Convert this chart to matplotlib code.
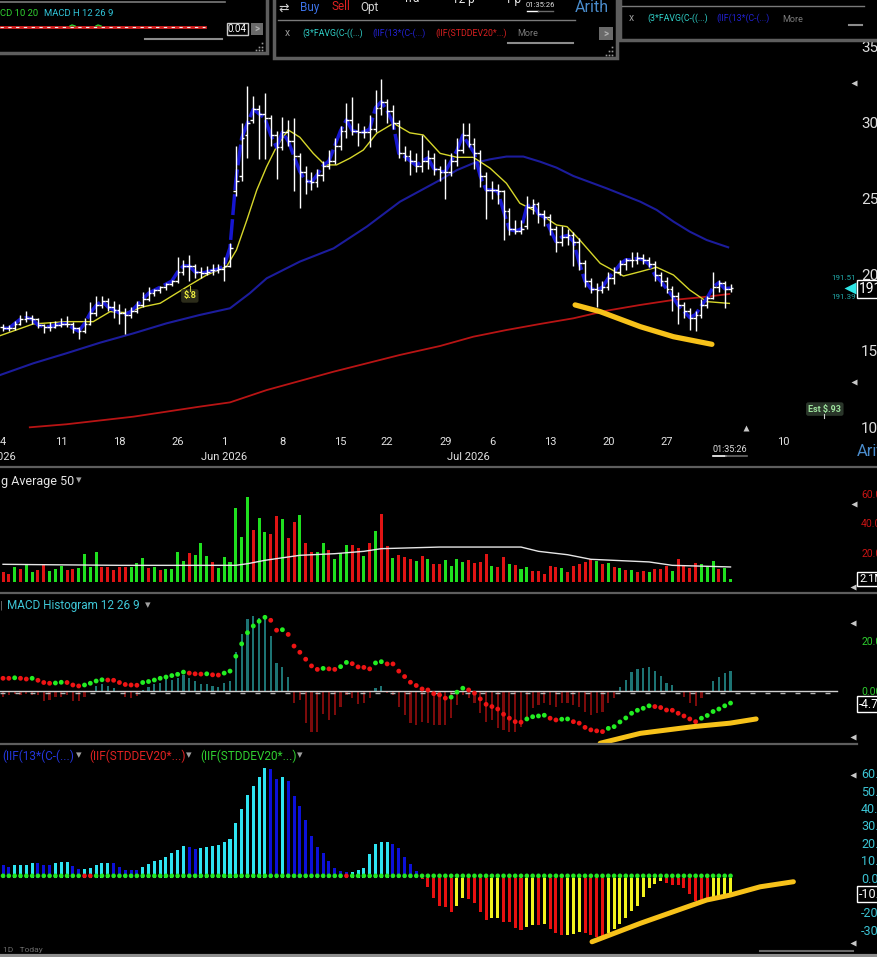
import matplotlib
matplotlib.use("Agg")
import matplotlib.pyplot as plt
import matplotlib.transforms as mtransforms
from matplotlib.patches import Rectangle
import numpy as np

plt.rcParams['font.family'] = ['Roboto', 'DejaVu Sans']

W, H = 877, 957

# ---------------- price bars (bar index 0 = 4 May 2026, two bars per session) ----------------
opens = [166, 165, 165, 168, 171, 172, 171, 167, 166, 166,
         167, 168, 168, 165, 163, 168, 175, 180, 183, 179,
         177, 175, 174, 176, 180, 184, 188, 190, 192, 194,
         196, 202, 206, 206, 202, 201, 203, 203, 204, 206,
         255, 265, 292, 302, 309, 306, 303, 292, 284, 294,
         288, 278, 268, 262, 261, 266, 272, 275, 285, 295,
         302, 295, 294, 294, 296, 310, 314, 308, 300, 280,
         278, 275, 272, 275, 277, 270,
         268, 268, 275, 282, 292, 286, 280, 265, 256, 256,
         255, 242, 230, 229, 232, 245, 247, 240, 238, 230,
         222, 225, 226, 222, 208, 196, 191, 190, 192, 198,
         202, 207, 210, 210, 211, 210, 207, 200, 196, 191,
         186, 180, 176, 172, 174, 180, 185, 192, 195, 191]
highs = [168, 167, 170, 174, 176, 174, 172, 168, 169, 170,
         172, 173, 169, 166, 172, 182, 186, 186, 185, 183,
         181, 178, 179, 183, 189, 192, 191, 193, 195, 197,
         212, 210, 213, 207, 205, 206, 207, 207, 212, 221,
         285, 300, 324, 318, 312, 320, 305, 295, 304, 302,
         303, 280, 272, 268, 270, 275, 282, 290, 298, 313,
         317, 300, 298, 305, 322, 329, 316, 312, 302, 285,
         282, 280, 292, 282, 280, 272,
         276, 280, 290, 300, 300, 290, 282, 268, 262, 260,
         256, 244, 236, 236, 252, 250, 248, 243, 240, 232,
         232, 230, 228, 224, 210, 198, 195, 196, 202, 205,
         210, 211, 215, 215, 214, 212, 209, 202, 199, 193,
         189, 182, 178, 176, 184, 186, 202, 197, 196, 194]
lows = [163, 163, 164, 167, 169, 168, 165, 162, 163, 165,
        166, 166, 162, 158, 162, 167, 173, 178, 176, 172,
        168, 161, 172, 175, 179, 183, 186, 188, 190, 193,
        195, 200, 196, 198, 198, 200, 200, 201, 196, 205,
        252, 262, 277, 300, 276, 276, 285, 263, 282, 285,
        255, 244, 253, 256, 258, 262, 270, 273, 282, 290,
        292, 285, 290, 284, 294, 305, 300, 296, 277, 275,
        266, 268, 268, 270, 266, 262,
        250, 265, 272, 280, 284, 270, 258, 237, 250, 247,
        223, 226, 227, 227, 230, 240, 234, 232, 226, 215,
        219, 220, 206, 203, 192, 188, 179, 188, 190, 194,
        200, 203, 205, 207, 207, 205, 196, 193, 188, 176,
        168, 172, 164, 163, 172, 178, 184, 189, 178, 189]
closes = [165, 165, 168, 171, 172, 171, 167, 166, 166, 167,
          168, 168, 165, 163, 168, 175, 180, 183, 179, 177,
          175, 174, 176, 180, 184, 188, 190, 192, 194, 196,
          202, 206, 206, 202, 201, 202, 203, 204, 206, 218,
          262, 290, 300, 309, 306, 303, 292, 284, 294, 288,
          278, 268, 262, 261, 266, 272, 275, 285, 295, 302,
          295, 294, 294, 296, 310, 314, 308, 300, 280, 278,
          275, 272, 275, 277, 270, 268,
          268, 275, 282, 292, 286, 280, 265, 256, 256, 255,
          242, 230, 229, 230, 245, 247, 240, 238, 230, 222,
          225, 226, 222, 208, 196, 191, 190, 192, 198, 202,
          207, 210, 210, 211, 210, 207, 200, 196, 191, 186,
          180, 176, 172, 174, 180, 185, 192, 195, 191, 191.4]

# moving averages read at sample positions (bar index, price)
ma_fast_idx = [-0.5, 5.2, 10.9, 15.5, 18.4, 21.2, 24.1, 27, 29.8, 32.1,
               35, 38.4, 40.1, 41.9, 43.6, 45.3, 47, 49, 51, 53.3,
               55.3, 57.3, 59.6, 61.9, 64.2, 67.1, 69.9, 72.2, 75.1, 78,
               80.8, 83.7, 86.5, 88.8, 91.7, 95.1, 96.9, 99.1, 102.6, 106.6,
               109.5, 112.3, 115.2, 118, 120.9, 124.8]
ma_fast_val = [160.1, 167.8, 169.3, 169.3, 175.9, 175.2, 179.1, 181.4, 188.0, 193.4,
               200.0, 205.5, 216.4, 236.2, 255.9, 271.3, 284.4, 295.4, 290.6, 280.0,
               272.4, 272.4, 276.8, 282.2, 293.2, 299.8, 293.5, 292.1, 280.0, 277.4,
               277.4, 270.2, 260.3, 247.2, 241.6, 232.9, 231.8, 223.0, 207.7, 199.3,
               202.2, 205.1, 200.0, 190.1, 182.5, 181.3]
ma50_idx = [-0.5, 5.2, 10.9, 16.7, 22.4, 28.1, 33.8, 39, 42.4, 45.3,
            51, 56.8, 62.5, 68.2, 75.1, 78, 80.8, 83.7, 86.5, 89.4,
            92.3, 95.1, 98, 103.7, 109.5, 112.3, 115.2, 118, 120.9, 124.6]
ma50_val = [134.2, 141.9, 148.5, 155.5, 161.6, 168.2, 173.7, 178.1, 188.0, 197.8,
            208.8, 217.5, 231.8, 248.2, 262.5, 269.0, 273.5, 276.1, 277.9, 277.9,
            274.5, 270.6, 265.1, 257.0, 248.2, 242.8, 235.1, 228.5, 223.0, 218.2]
ma200_idx = [4.6, 10.9, 22.4, 33.8, 39, 45.3, 56.8, 68.2, 75.1, 80.8,
             86.5, 92.3, 98, 103.7, 109.5, 115.2, 120.9, 124.8]
ma200_val = [99.8, 101.8, 106.8, 113.4, 116.2, 124.3, 136.4, 147.4, 153.3, 159.4,
             163.8, 167.8, 171.5, 176.5, 180.3, 183.6, 185.7, 187.5]

# ---------------- volume (millions) ----------------
volume = [6.8, 5.2, 9.9, 8.6, 11.8, 6.8, 7.9, 12.0, 7.2, 8.6,
          10.8, 7.9, 8.6, 9.5, 18.8, 10.2, 20.1, 10.2, 10.2, 7.9,
          10.2, 10.2, 10.2, 12.7, 16.0, 9.5, 10.2, 7.9, 8.6, 8.6,
          20.1, 14.0, 19.4, 18.1, 26.2, 17.4, 13.3, 9.5, 16.7, 13.3,
          49.9, 30.3, 57.4, 35.0, 43.2, 33.7, 32.3, 44.5, 42.5, 29.6,
          40.5, 45.2, 26.2, 20.1, 20.1, 26.2, 21.5, 15.4, 19.4, 24.9,
          24.9, 22.8, 17.4, 26.2, 34.4, 45.9, 24.2, 16.0, 18.1, 16.7,
          15.4, 14.0, 17.4, 15.4, 12.0, 12.0,
          14.7, 10.6, 15.4, 13.3, 14.7, 12.7, 13.3, 18.8, 10.6, 9.9,
          16.7, 12.0, 11.3, 8.6, 9.9, 7.2, 7.2, 5.2, 10.6, 9.9,
          9.3, 6.6, 10.6, 12.0, 13.3, 15.4, 14.0, 12.0, 12.7, 9.9,
          9.3, 7.9, 7.9, 6.6, 7.2, 6.6, 8.6, 8.6, 10.6, 7.2,
          15.4, 10.6, 9.3, 12.7, 12.0, 10.6, 14.0, 8.6, 9.3, 2.3]
volume_dir = ("RRGRGGRRGG" "GRRGGGGRRR" "RRGGGRGRGG" "GGRGGGRGGG"
              "GGGRGGRRGR" "RGRRGGRGGG" "RRGRGRRGRR" "RGRGRRGGGG"
              "RRRRGRRGRG" "GRRRRRGRRR" "RRGRGRGRGR" "RGRRRGRRRR" "GGGRGG")
vol_ma_idx = [0, 5, 20, 35, 40, 42, 45, 51, 57, 62, 65, 75, 89, 92, 97, 101, 111, 115, 125]
vol_ma_val = [12.0, 11.8, 11.3, 11.3, 11.3, 12.4, 14.7, 18.1, 19.2, 20.8,
              22.6, 23.7, 23.7, 20.8, 18.5, 15.4, 13.6, 11.3, 10.2]

# ---------------- MACD 12 26 9 ----------------
macd_hist = [-2.3, -1.6, -1.1, -1.6, -1.2, -1.6, -1.6, -4.0, -3.6, -2.3,
             -2.3, -1.6, -4.0, -4.0, -2.3, -0.4, 2.1, 2.8, 2.0, 1.1,
             -0.5, -2.3, -2.9, -2.0, 0.3, 1.6, 2.8, 3.4, 4.7, 4.4,
             5.4, 6.5, 5.1, 4.0, 2.8, 2.8, 2.0, 1.6, 3.4, 4.2,
             15.8, 23.0, 28.9, 30.2, 29.3, 29.0, 22.2, 11.2, 9.6, 5.8,
             -5.0, -3.6, -12.8, -16.4, -16.4, -9.4, -11.7, -9.7, -6.3, -1.6,
             -2.9, -5.4, -5.0, -2.9, 1.1, 2.0, -0.9, -1.6, -6.3, -9.7,
             -13.0, -13.7, -12.4, -13.0, -13.7, -13.7,
             -13.7, -11.0, -5.6, -1.6, -2.9, -5.0, -9.0, -12.4, -11.7, -15.1,
             -15.7, -16.4, -16.4, -14.4, -10.4, -7.0, -5.6, -5.0, -5.6, -6.3,
             -5.0, -5.0, -5.6, -6.3, -8.3, -9.7, -9.0, -8.3, -5.0, -2.9,
             1.5, 4.4, 7.5, 8.9, 9.4, 9.7, 8.1, 6.0, 3.1, 2.4,
             -0.5, -2.3, -4.7, -5.9, -2.7, -0.3, 4.0, 5.6, 7.1, 8.1]
macd_line = [5.1, 5.1, 5.3, 5.1, 4.8, 5.1, 4.3, 3.4, 3.1, 3.2,
             3.5, 3.4, 2.4, 2.0, 2.4, 3.1, 4.0, 4.5, 4.4, 4.3,
             3.4, 2.6, 2.4, 2.3, 3.4, 3.8, 4.4, 5.1, 5.6, 6.2,
             6.7, 7.6, 7.2, 6.9, 6.8, 6.9, 6.5, 6.4, 7.2, 8.0,
             14.0, 19.0, 23.5, 26.2, 28.1, 29.7, 28.5, 24.5, 24.7, 22.8,
             18.1, 15.6, 12.8, 10.1, 8.7, 9.1, 8.9, 8.7, 9.8, 11.5,
             11.0, 9.7, 9.5, 8.9, 11.3, 11.8, 10.9, 10.9, 8.0, 5.8,
             3.5, 2.2, 0.8, 0.4, -1.1, -1.6,
             -2.9, -2.5, -0.5, 1.1, 0.4, -0.9, -3.2, -5.4, -6.3, -7.3,
             -9.4, -11.0, -12.4, -12.6, -11.3, -10.4, -10.1, -9.8, -11.0, -11.7,
             -11.4, -11.3, -12.4, -13.0, -14.7, -15.7, -16.1, -16.4, -15.1, -14.4,
             -12.5, -10.9, -9.0, -7.8, -7.0, -6.0, -6.3, -6.7, -7.7, -7.8,
             -9.0, -10.1, -11.3, -12.4, -11.0, -9.9, -8.3, -7.3, -6.0, -4.9]

# ---------------- momentum / squeeze ----------------
momentum = [7.2, 5.9, 7.2, 7.3, 7.4, 8.5, 8.3, 7.2, 7.0, 8.5,
            8.9, 9.0, 6.6, 4.9, 5.0, 5.6, 7.2, 8.5, 8.6, 8.5,
            6.1, 4.3, 4.2, 4.1, 6.1, 7.8, 9.5, 10.1, 12.0, 14.3,
            15.8, 18.1, 17.5, 16.2, 16.8, 17.7, 18.1, 18.7, 20.2, 22.1,
            31.1, 39.2, 47.4, 52.6, 57.5, 62.7, 62.5, 56.9, 57.5, 55.4,
            46.8, 41.1, 33.2, 24.0, 17.3, 14.3, 9.5, 5.4, 3.8, 3.0,
            3.2, 4.3, 5.4, 13.3, 19.0, 20.2, 20.6, 19.0, 16.8, 12.0,
            8.0, 4.0, -0.8, -5.3, -11.6, -16.2,
            -16.8, -19.7, -16.2, -11.9, -12.3, -14.8, -19.7, -24.4, -23.5, -23.1,
            -25.4, -25.4, -28.9, -30.2, -28.3, -27.4, -27.4, -26.4, -29.8, -32.1,
            -33.0, -32.8, -32.5, -31.2, -32.1, -33.1, -34.0, -34.2, -31.7, -29.8,
            -26.4, -23.1, -19.3, -16.2, -11.1, -6.2, -3.9, -2.0, -3.4, -4.3,
            -4.3, -6.2, -9.7, -13.3, -13.9, -14.3, -12.9, -12.6, -11.1, -10.1]
squeeze_on_bars = [14, 15, 59]
squeeze_level = 1.0

# ---------------- axis labels ----------------
day_tick_idx = [0, 10, 20, 30, 38, 48, 58, 66, 76, 84, 94, 104, 114, 134]
day_tick_lbl = ['4', '11', '18', '26', '1', '8', '15', '22', '29', '6', '13', '20', '27', '10']
month_idx = [-2, 38, 80]
month_lbl = ['May 2026', 'Jun 2026', 'Jul 2026']
price_ticks = [100, 150, 200, 250, 300, 350]
vol_ticks = [20, 40, 60]
macd_ticks = [0, 20]
mom_ticks = [-30, -20, 0, 10, 20, 30, 40, 50, 60]   # the -10 level is covered by the live-value box

# hand-drawn highlight strokes (bar index, value)
hl_price_x = [98.3, 102.6, 109.5, 115.2, 121.8]
hl_price_y = [180.3, 175.9, 166.0, 159.4, 154.4]
hl_macd_x = [102.6, 109.5, 118.6, 124.9, 129.4]
hl_macd_y = [-21.1, -17.1, -14.4, -13.0, -11.3]
hl_mom_x = [101.2, 109.5, 120.9, 124.9, 130.1, 135.8]
hl_mom_y = [-36.9, -26.3, -12.9, -10.1, -5.3, -2.4]

# ================= drawing =================
fig = plt.figure(figsize=(W / 100, H / 100), dpi=100)
fig.patch.set_facecolor('black')

PX_PER_BAR = 5.82
XMIN = -0.52
XMAX = XMIN + 857 / PX_PER_BAR


def panel(y0, y1, ylo, yhi):
    ax = fig.add_axes([0, 1 - y1 / H, 857 / W, (y1 - y0) / H])
    ax.set_facecolor('black')
    ax.set_xlim(XMIN, XMAX)
    ax.set_ylim(ylo, yhi)
    for s in ax.spines.values():
        s.set_visible(False)
    ax.tick_params(axis='x', which='both', bottom=False, labelbottom=False)
    ax.yaxis.tick_right()
    ax.tick_params(axis='y', length=0, pad=3)
    return ax


x = np.arange(len(closes))
HL = '#f7c21a'

# ---- price panel ----
axp = panel(36, 430, 98.03, 357.2)
axp.plot(ma200_idx, ma200_val, color='#b81414', lw=1.3, zorder=2)
axp.plot(ma50_idx, ma50_val, color='#1c1c9c', lw=1.5, zorder=2)
axp.plot(ma_fast_idx, ma_fast_val, color='#d6d62a', lw=1.0, zorder=2)
axp.plot(x, closes, color='#1616d0', lw=2.5, zorder=3, dashes=(6, 1.2))
axp.vlines(x, lows, highs, color='white', lw=1.0, zorder=4)
axp.hlines(opens, x - 0.48, x, color='white', lw=1.0, zorder=4)
axp.hlines(closes, x, x + 0.48, color='white', lw=1.0, zorder=4)
axp.plot(hl_price_x, hl_price_y, color=HL, lw=3.8, solid_capstyle='round', zorder=5)
axp.set_yticks(price_ticks)
axp.set_yticklabels([str(t) for t in price_ticks], color='#dcdcdc', fontsize=11)
axp.text(32.1, 186.2, '$.8', color='#ecec40', fontsize=6.5, ha='center', va='center',
         fontweight='bold', bbox=dict(boxstyle='round,pad=0.25', fc='#2c2c1a', ec='none'), zorder=6)
axp.plot([32.1, 32.1], [189.5, 192.5], color='#cccc40', lw=0.8, zorder=6)
axp.text(141.2, 111.8, 'Est $.93', color='#9de29d', fontsize=6.5, ha='center', va='center',
         fontweight='bold', bbox=dict(boxstyle='round,pad=0.25', fc='#2a362a', ec='none'), zorder=6)
axp.plot([141.0, 141.0], [108.5, 106.0], color='#cfcfcf', lw=0.8, zorder=6)

tr = mtransforms.blended_transform_factory(axp.transData, axp.transAxes)
for xi, lb in zip(day_tick_idx, day_tick_lbl):
    axp.text(xi, -0.0305, lb, transform=tr, color='#e2e2e2', fontsize=8,
             ha='center', va='center', clip_on=False)
for xi, lb in zip(month_idx, month_lbl):
    axp.text(xi, -0.0685, lb, transform=tr, color='#e2e2e2', fontsize=8,
             ha='center', va='center', clip_on=False)

# ---- volume panel ----
axv = panel(468, 593, -7.46, 77.3)
vcol = ['#1fe01f' if d == 'G' else '#e01414' for d in volume_dir]
axv.bar(x, volume, width=0.52, color=vcol, zorder=2)
axv.plot(vol_ma_idx, vol_ma_val, color='#e6e6e6', lw=1.0, zorder=3)
axv.set_yticks(vol_ticks)
axv.set_yticklabels(['%.1f' % t for t in vol_ticks], color='#c81414', fontsize=7.5)

# ---- MACD panel ----
axm = panel(595, 743, -21.0, 38.7)
hcol = ['#1d7474' if v >= 0 else '#7c0b0b' for v in macd_hist]
axm.bar(x, macd_hist, width=0.38, color=hcol, zorder=2)
axm.axhline(0, color='#d0d0d0', lw=1.0, zorder=3, xmax=(837 / 857))
axm.axhline(-0.8, color='#b4b4b4', lw=1.0, zorder=3, xmax=(837 / 857), dashes=(3.6, 7.2))
prev = np.concatenate([[macd_line[0] + 0.1], macd_line[:-1]])
dcol = ['#22ee22' if v > p else '#ee1414' for v, p in zip(macd_line, prev)]
axm.scatter(x, macd_line, s=12, c=dcol, zorder=4, linewidths=0)
axm.plot(hl_macd_x, hl_macd_y, color=HL, lw=3.6, solid_capstyle='round', zorder=5, clip_on=True)
axm.set_yticks(macd_ticks)
axm.set_yticklabels(['0.00', '20.0'], color='#2ecc2e', fontsize=7.5)

# ---- momentum panel ----
axs = panel(746, 955, -44.5, 75.6)
mprev = np.concatenate([[momentum[0] + 0.5], momentum[:-1]])
mcol = []
for v, p in zip(momentum, mprev):
    if v >= 0:
        mcol.append('#2ee4f2' if v > p else '#0c10d8')
    else:
        mcol.append('#f2f21e' if v > p else '#e81010')
axs.bar(x, momentum, width=0.52, color=mcol, zorder=2)
sqcol = ['#ee1414' if i in squeeze_on_bars else '#22e622' for i in x]
axs.scatter(x, [squeeze_level] * len(x), s=11, c=sqcol, zorder=4, linewidths=0)
axs.plot(hl_mom_x, hl_mom_y, color=HL, lw=3.6, solid_capstyle='round', zorder=5)
axs.set_yticks(mom_ticks)
axs.set_yticklabels(['%.1f' % t for t in mom_ticks], color='#3cc4d4', fontsize=9)

# ================= overlay chrome (pixel coords) =================
ov = fig.add_axes([0, 0, 1, 1], zorder=10)
ov.set_xlim(0, W)
ov.set_ylim(H, 0)
ov.axis('off')
ov.patch.set_alpha(0)

GR = '#5e5e5e'
for yy, x1 in [(467, 877), (593, 877), (744, 857)]:
    ov.plot([0, x1], [yy, yy], color=GR, lw=1.6)
ov.plot([0, 877], [955.5, 955.5], color='#8e8e8e', lw=3)
ov.plot([760, 853], [951, 951], color='#6a6a6a', lw=1.5)

# panel titles
ov.text(1, 481, 'g Average 50', color='#e6e6e6', fontsize=9, va='center')
ov.text(76, 480, '▾', color='#a0a0a0', fontsize=8, va='center')
ov.text(0, 606, '|', color='#808080', fontsize=8, va='center')
ov.text(7, 606, 'MACD Histogram 12 26 9', color='#3ec6d6', fontsize=8.5, va='center')
ov.text(145, 605, '▾', color='#a0a0a0', fontsize=8, va='center')
ov.text(2, 756, '(IIF(13*(C-(...)', color='#2436dc', fontsize=8.5, va='center')
ov.text(76, 755, '▾', color='#a0a0a0', fontsize=8, va='center')
ov.text(89, 756, '(IIF(STDDEV20*...)', color='#e02222', fontsize=8.5, va='center')
ov.text(186, 755, '▾', color='#a0a0a0', fontsize=8, va='center')
ov.text(200, 756, '(IIF(STDDEV20*...)', color='#30d030', fontsize=8.5, va='center')
ov.text(297, 755, '▾', color='#a0a0a0', fontsize=8, va='center')
ov.text(3, 950, '1D   Today', color='#6c6c6c', fontsize=6, va='center')

# right-edge markers
for (tx, ty) in [(854, 83), (854, 382), (854, 504), (853, 587), (853, 623),
                 (853, 737), (853, 775), (853, 943)]:
    ov.plot(tx, ty, marker='<', color='#c8c8c8', ms=4.5, mec='none')
ov.plot(746, 428, marker='^', color='#c8c8c8', ms=5, mec='none')

# current value boxes
ov.plot(850, 288, marker='<', color='#2fe6e6', ms=8, mec='none')
ov.text(859, 289, '191.4', color='white', fontsize=10, va='center',
        bbox=dict(boxstyle='square,pad=0.12', fc='black', ec='white', lw=1))
ov.text(844, 278, '191.51', color='#22aaaa', fontsize=5.8, va='center', ha='center')
ov.text(844, 297, '191.39', color='#22aaaa', fontsize=5.8, va='center', ha='center')
ov.text(859, 579, '2.1M', color='white', fontsize=8, va='center',
        bbox=dict(boxstyle='square,pad=0.15', fc='black', ec='white', lw=1))
ov.text(859, 704, '-4.7', color='white', fontsize=8.5, va='center',
        bbox=dict(boxstyle='square,pad=0.15', fc='black', ec='white', lw=1))
ov.text(859, 894, '-10.1', color='white', fontsize=9, va='center',
        bbox=dict(boxstyle='square,pad=0.15', fc='black', ec='white', lw=1))
ov.text(857, 452, 'Arith', color='#4a8ccc', fontsize=12, va='center')

# timestamp under the latest bar
ov.text(730, 449, '01:35:26', color='#e0e0e0', fontsize=6.5, va='center', ha='center')
ov.plot([713, 726], [456, 456], color='white', lw=1.2)
ov.plot([726, 747], [456, 456], color='#6a6a6a', lw=1.2)

# ---- floating window 1 ----
ov.add_patch(Rectangle((-3, -3), 270, 56, fc='black', ec=GR, lw=2.5))
ov.plot([0, 225], [2, 2], color='#7a7a7a', lw=1.2)
ov.text(0, 14, 'CD 10 20', color='#30d030', fontsize=6.8, va='center')
ov.text(44, 14, 'MACD H 12 26 9', color='#30c4d8', fontsize=6.8, va='center')
ov.plot([0, 205], [27, 27], color='#d82020', lw=2.0)
ov.plot([0, 205], [27, 27], color='#f0f0f0', lw=0.8, dashes=(3, 4))
ov.plot([70, 72, 75], [26, 25, 26], color='#30d030', lw=1.0)
ov.plot([96, 98, 101], [26, 25, 26], color='#30d030', lw=1.0)
ov.text(237.5, 29, '0.04', color='white', fontsize=7, va='center', ha='center',
        bbox=dict(boxstyle='square,pad=0.15', fc='black', ec='#c8c8c8', lw=1))
ov.add_patch(Rectangle((251, 23), 12, 12, fc='#6a6a6a', ec='none'))
ov.text(257, 29, '>', color='#b0b0b0', fontsize=7, va='center', ha='center', fontweight='bold')
ov.plot([145, 222], [39, 39], color='#8c8c8c', lw=1.5)
for (gx, gy) in [(262, 43), (259, 47), (262, 47), (256, 50), (259, 50), (262, 50)]:
    ov.plot(gx, gy, marker='s', color='#9a9a9a', ms=1.2, mec='none')

# ---- floating window 2 ----
ov.add_patch(Rectangle((274, -3), 343, 61, fc='black', ec=GR, lw=2.5))
ov.text(284, 8, '⇄', color='#d0d0d0', fontsize=9, va='center', ha='center')
ov.text(300, 7, 'Buy', color='#3c72e6', fontsize=8.5, va='center')
ov.text(332, 7, 'Sell', color='#e02222', fontsize=8.5, va='center')
ov.text(360, 7, 'Opt', color='#d8d8d8', fontsize=8.5, va='center')
ov.text(403, -1, 'Tra', color='#e8e8e8', fontsize=8.5, va='center')
ov.text(452, -1, '12 p', color='#e8e8e8', fontsize=8.5, va='center')
ov.text(505, -1, '1 p', color='#e8e8e8', fontsize=8.5, va='center')
ov.text(540, 5, '01:35:26', color='#e0e0e0', fontsize=5.5, va='center', ha='center')
ov.plot([527, 538], [11, 11], color='white', lw=1.0)
ov.plot([538, 553], [11, 11], color='#6a6a6a', lw=1.0)
ov.text(575, 8, 'Arith', color='#4a8ccc', fontsize=11.5, va='center')
ov.plot([278, 575], [20, 20], color='#7a7a7a', lw=1.0)
ov.text(287, 33, 'x', color='#9a9a9a', fontsize=7.5, va='center', ha='center')
ov.text(302, 33, '(3*FAVG(C-((...)', color='#30d0c8', fontsize=6.3, va='center')
ov.text(372, 33, '(IIF(13*(C-(...)', color='#2222d4', fontsize=6.3, va='center')
ov.text(435, 33, '(IIF(STDDEV20*...)', color='#d82020', fontsize=6.3, va='center')
ov.text(517, 33, 'More', color='#7a7a7a', fontsize=6.5, va='center')
ov.add_patch(Rectangle((599, 27), 14, 13, fc='#6a6a6a', ec='none'))
ov.text(606, 33.5, '>', color='#b0b0b0', fontsize=7, va='center', ha='center', fontweight='bold')
ov.plot([508, 573], [43, 43], color='#8c8c8c', lw=1.5)
for (gx, gy) in [(612, 47), (609, 51), (612, 51), (606, 55), (609, 55), (612, 55)]:
    ov.plot(gx, gy, marker='s', color='#9a9a9a', ms=1.2, mec='none')

# ---- floating window 3 ----
ov.add_patch(Rectangle((620, -3), 262, 43, fc='black', ec=GR, lw=2.5))
ov.plot([622, 864], [6, 6], color='#7a7a7a', lw=1.0)
ov.text(631, 18, 'x', color='#9a9a9a', fontsize=7.5, va='center', ha='center')
ov.text(647, 18, '(3*FAVG(C-((...)', color='#30d0c8', fontsize=6.3, va='center')
ov.text(716, 18, '(IIF(13*(C-(...)', color='#2222d4', fontsize=6.3, va='center')
ov.text(782, 19, 'More', color='#7a7a7a', fontsize=6.5, va='center')
ov.plot([849, 862], [25, 25], color='#8c8c8c', lw=1.5)

fig.savefig('out.png', dpi=100, facecolor='black')
